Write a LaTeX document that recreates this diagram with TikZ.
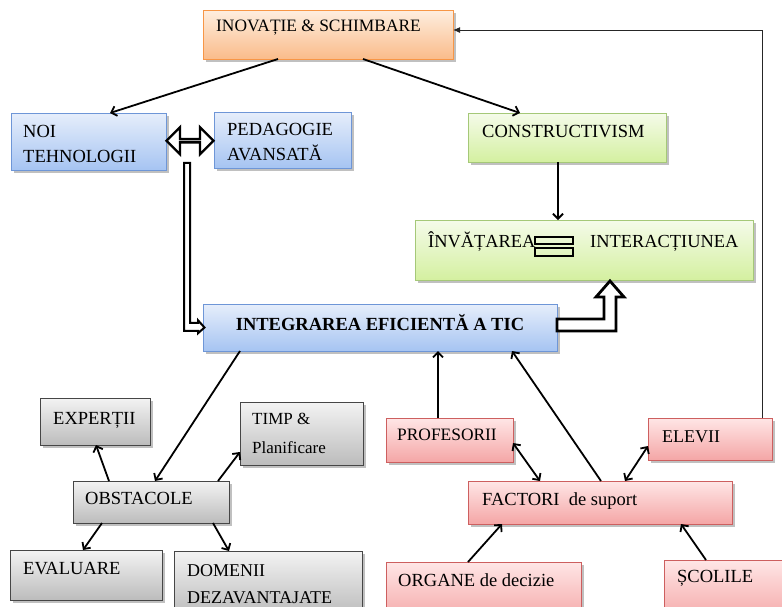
\documentclass[tikz,border=0pt]{standalone}
\usepackage{fontspec}
\setmainfont{Liberation Serif}
\usetikzlibrary{shapes.arrows,shadows,arrows.meta,calc}
\definecolor{orB}{RGB}{247,150,70}
\definecolor{orT}{RGB}{254,238,224}
\definecolor{orD}{RGB}{250,188,138}
\definecolor{blB}{RGB}{110,150,215}
\definecolor{blT}{RGB}{230,238,251}
\definecolor{blD}{RGB}{166,196,242}
\definecolor{grB}{RGB}{165,200,120}
\definecolor{grT}{RGB}{245,251,234}
\definecolor{grD}{RGB}{212,240,160}
\definecolor{gyB}{RGB}{70,70,70}
\definecolor{gyT}{RGB}{243,243,243}
\definecolor{gyD}{RGB}{188,188,188}
\definecolor{rdB}{RGB}{205,95,95}
\definecolor{rdT}{RGB}{255,230,230}
\definecolor{rdD}{RGB}{244,166,166}
\begin{document}
\begin{tikzpicture}[x=1pt,y=-1pt,
  bx/.style={line width=1pt, inner sep=0pt, outer sep=0pt, anchor=north west,
    drop shadow={shadow xshift=2.5pt,shadow yshift=-2.5pt,fill=black!45,opacity=.55}},
  orng/.style={bx, draw=orB, top color=orT, bottom color=orD},
  blu/.style={bx, draw=blB, top color=blT, bottom color=blD},
  grn/.style={bx, draw=grB, top color=grT, bottom color=grD},
  gry/.style={bx, draw=gyB, top color=gyT, bottom color=gyD},
  red/.style={bx, draw=rdB, top color=rdT, bottom color=rdD},
  lbl/.style={anchor=north west, inner sep=0pt, font=\fontsize{18.5pt}{25pt}\selectfont, align=left},
  lbls/.style={lbl, font=\fontsize{17.4pt}{25pt}\selectfont},
  lblb/.style={anchor=base west, inner sep=0pt, font=\fontsize{18.4pt}{25pt}\selectfont},
  arr/.style={line width=1.8pt, -{Straight Barb[length=5pt,width=10pt]}},
  arrb/.style={line width=1.8pt, {Straight Barb[length=5pt,width=10pt]}-{Straight Barb[length=5pt,width=10pt]}},
  thinarr/.style={line width=1pt, draw=black!85, -{Latex[length=7pt,width=6pt]}},
  blockarr/.style={draw, line width=2.8pt, fill=white, line join=miter},
  slimarr/.style={draw, line width=2pt, fill=white, line join=miter},
]
\useasboundingbox (0,0) rectangle (782,606);

% boxes
\node[orng, minimum width=250pt, minimum height=49pt,
  label={[lbls,xshift=13pt,yshift=-10pt]north west:INOVAȚIE \& SCHIMBARE}] (inov) at (203,10) {};
\node[blu, minimum width=155pt, minimum height=57pt,
  label={[lbl,xshift=12pt,yshift=-12pt]north west:NOI\\TEHNOLOGII}] (noi) at (11,113) {};
\node[blu, minimum width=137pt, minimum height=56pt,
  label={[lbl,xshift=13pt,yshift=-11pt]north west:PEDAGOGIE\\AVANSATĂ}] (ped) at (214,112) {};
\node[grn, minimum width=198pt, minimum height=49pt,
  label={[lbl,xshift=14pt,yshift=-12pt]north west:CONSTRUCTIVISM}] (cons) at (468,113) {};
\node[grn, minimum width=338pt, minimum height=60pt,
  label={[lblb,xshift=13pt,yshift=-27pt]north west:ÎNVĂȚAREA},
  label={[lblb,xshift=175pt,yshift=-27pt]north west:INTERACȚIUNEA}] (invat) at (415,220) {};
\node[blu, minimum width=354pt, minimum height=47pt,
  font=\fontsize{18.5pt}{22pt}\selectfont\bfseries, text height=10pt, text depth=5pt] (integ) at (203,304) {INTEGRAREA EFICIENTĂ A TIC};

\node[gry, minimum width=156pt, minimum height=42pt,
  label={[lbl,xshift=12pt,yshift=-11pt]north west:OBSTACOLE}] (obst) at (73,481) {};
\node[gry, minimum width=110pt, minimum height=47pt,
  label={[lbl,xshift=13pt,yshift=-14pt]north west:EXPERȚII}] (expert) at (40,398) {};
\node[gry, minimum width=123pt, minimum height=63pt,
  label={[lbl,font=\fontsize{17pt}{25pt}\selectfont,xshift=12pt,yshift=-11pt]north west:TIMP \&\\[4pt]Planificare}] (timp) at (240,402) {};
\node[gry, minimum width=152pt, minimum height=50pt,
  label={[lbl,xshift=13pt,yshift=-12pt]north west:EVALUARE}] (eval) at (10,550) {};
\node[gry, minimum width=188pt, minimum height=64pt,
  label={[lbl,font=\fontsize{18pt}{25pt}\selectfont,xshift=13pt,yshift=-13pt]north west:DOMENII\\[2pt]DEZAVANTAJATE}] (domen) at (174,551) {};

\node[red, minimum width=127pt, minimum height=44pt,
  label={[lbls,xshift=11pt,yshift=-11pt]north west:PROFESORII}] (prof) at (386,418) {};
\node[red, minimum width=124pt, minimum height=42pt,
  label={[lbl,font=\fontsize{18pt}{25pt}\selectfont,xshift=14pt,yshift=-13pt]north west:ELEVII}] (elev) at (648,418) {};
\node[red, minimum width=264pt, minimum height=43pt,
  label={[lbl,xshift=14pt,yshift=-11pt]north west:FACTORI\ \ de suport}] (fact) at (468,481) {};
\node[red, minimum width=195pt, minimum height=60pt,
  label={[lbl,xshift=12pt,yshift=-11pt]north west:ORGANE de decizie}] (organ) at (386,562) {};
\node[red, minimum width=130pt, minimum height=62pt,
  label={[lbl,xshift=13pt,yshift=-10pt]north west:ȘCOLILE}] (scol) at (664,560) {};

% equals sign
\draw[line width=1.2pt] ([shift={(120,17)}]invat.north west) rectangle ([shift={(158,24)}]invat.north west);
\draw[line width=1.2pt] ([shift={(120,28)}]invat.north west) rectangle ([shift={(158,36)}]invat.north west);

% hollow double arrow
\node[double arrow, draw, line width=2.4pt, fill=white, inner sep=0pt,
  minimum height=47pt, minimum width=27pt, double arrow head extend=8.5pt]
  (darr) at ($(noi.east)!0.5!(ped.west)$) {};

% slim hollow elbow arrow (from the double arrow to INTEGRAREA)
\coordinate (dstart) at ([xshift=-6pt,yshift=-22pt]darr.center);
\draw[slimarr] (dstart) -- ++(6,0) -- ($(dstart -| dstart) + (6,160)$) -- ($(dstart)+(14,160)$)
  -- ($(dstart)+(14,157.5)$) -- ([xshift=1.5pt]integ.west) -- ($(dstart)+(14,170.5)$)
  -- ($(dstart)+(14,168)$) -- ($(dstart)+(0,168)$) -- cycle;

% block elbow arrow
\draw[blockarr] ([yshift=8.5pt]integ.east) -- ++(47,0) -- ++(0,-22) -- ++(-8,0)
  -- ++(14,-16) -- ++(14,16) -- ++(-8,0) -- ++(0,34) -- ++(-59,0) -- cycle;

% arrows
\draw[arr] ([xshift=75pt]inov.south west) -- ([xshift=99pt]noi.north west);
\draw[arr] ([xshift=160pt]inov.south west) -- ([xshift=52pt]cons.north west);
\draw[arr] ([xshift=90pt]cons.south west) coordinate (c1) -- (c1 |- invat.north);
\draw[arr] ([xshift=37pt]integ.south west) -- ([xshift=82pt]obst.north west);
\draw[arr] ([xshift=36pt]obst.north west) -- ([xshift=56pt]expert.south west);
\draw[arr] ([xshift=-11pt]obst.north east) -- ([yshift=13pt]timp.south west);
\draw[arr] ([xshift=29pt]obst.south west) -- ([xshift=73pt]eval.north west);
\draw[arr] ([xshift=140pt]obst.south west) -- ([xshift=55pt]domen.north west);
\draw[arr] ([xshift=52pt]prof.north west) coordinate (p1) -- (p1 |- integ.south);
\draw[arr] ([xshift=133pt]fact.north west) -- ([xshift=309pt]integ.south west);
\draw[arrb] ([yshift=-3pt]prof.east) -- ([xshift=72pt]fact.north west);
\draw[arrb] ([yshift=-7pt]elev.west) -- ([xshift=157pt]fact.north west);
\draw[arr] ([xshift=82pt]organ.north west) -- ([xshift=34pt]fact.south west);
\draw[arr] ([xshift=42pt]scol.north west) -- ([xshift=213pt]fact.south west);

% return line
\draw[thinarr] ([xshift=114pt]elev.north west) |- ([yshift=4.5pt]inov.east);
\end{tikzpicture}
\end{document}
